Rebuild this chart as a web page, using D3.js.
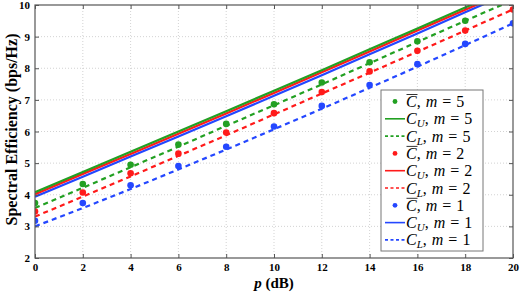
<!DOCTYPE html>
<html>
<head>
<meta charset="utf-8">
<script src="https://cdn.jsdelivr.net/npm/d3@7"></script>
<style>
  body { margin: 0; background: #fff; }
  svg text { font-family: "Liberation Serif", "DejaVu Serif", serif; }
</style>
</head>
<body>
<div id="chart"></div>
<script>
// snr points (dB)
const pValues = [0, 2, 4, 6, 8, 10, 12, 14, 16, 18, 20];
const xTicks = [0, 2, 4, 6, 8, 10, 12, 14, 16, 18, 20];
const yTicks = [2, 3, 4, 5, 6, 7, 8, 9, 10];

// C bar (simulated points)
const cBar5 = [3.74, 4.34, 4.95, 5.59, 6.24, 6.86, 7.55, 8.19, 8.85, 9.50, 10.15];
const cBar2 = [3.47, 4.07, 4.68, 5.30, 5.97, 6.58, 7.25, 7.90, 8.55, 9.19, 9.86];
const cBar1 = [3.18, 3.74, 4.30, 4.91, 5.52, 6.16, 6.81, 7.47, 8.13, 8.77, 9.42];
// upper bounds
const cU5 = [4.08, 4.72, 5.36, 6.00, 6.64, 7.29, 7.94, 8.60, 9.26, 9.92, 10.58];
const cU2 = [4.02, 4.66, 5.29, 5.93, 6.57, 7.22, 7.87, 8.53, 9.19, 9.85, 10.51];
const cU1 = [3.94, 4.57, 5.21, 5.84, 6.48, 7.13, 7.78, 8.44, 9.10, 9.77, 10.43];
// lower bounds
const cL5 = [3.58, 4.22, 4.87, 5.52, 6.18, 6.83, 7.49, 8.16, 8.83, 9.50, 10.16];
const cL2 = [3.31, 3.94, 4.58, 5.23, 5.88, 6.54, 7.20, 7.86, 8.52, 9.19, 9.86];
const cL1 = [3.00, 3.58, 4.18, 4.80, 5.43, 6.07, 6.72, 7.38, 8.05, 8.73, 9.42];

const mValues = [5, 2, 1];
const colors = ["#22a022", "#ff1a1a", "#2447ff"];

const width = 526, height = 293;
const margin = {top: 5, right: 13, bottom: 35, left: 35};

const svg = d3.select("#chart").append("svg")
  .attr("width", width)
  .attr("height", height);

const x = d3.scaleLinear().domain([0, 20]).range([margin.left, width - margin.right]);
const y = d3.scaleLinear().domain([2, 10]).range([height - margin.bottom, margin.top]);

// grid
svg.append("g").selectAll("line").data(xTicks.slice(1, -1)).join("line")
  .attr("x1", d => x(d)).attr("x2", d => x(d))
  .attr("y1", y(2)).attr("y2", y(10))
  .attr("stroke", "#c8c8c8").attr("stroke-width", 0.8).attr("stroke-dasharray", "1,2");
svg.append("g").selectAll("line").data(yTicks.slice(1, -1)).join("line")
  .attr("x1", x(0)).attr("x2", x(20))
  .attr("y1", d => y(d)).attr("y2", d => y(d))
  .attr("stroke", "#c8c8c8").attr("stroke-width", 0.8).attr("stroke-dasharray", "1,2");

// clip
svg.append("clipPath").attr("id", "clip").append("rect")
  .attr("x", x(0)).attr("y", y(10))
  .attr("width", x(20) - x(0)).attr("height", y(2) - y(10));

const plot = svg.append("g").attr("clip-path", "url(#clip)");
const line = d3.line().x((d, i) => x(pValues[i])).y(d => y(d));

const groups = [
  {bar: cBar5, up: cU5, low: cL5},
  {bar: cBar2, up: cU2, low: cL2},
  {bar: cBar1, up: cU1, low: cL1}
];

// upper bounds first, then lower, then dots
[2, 1, 0].forEach(k => {
  plot.append("path").datum(groups[k].up)
    .attr("d", line).attr("fill", "none")
    .attr("stroke", colors[k]).attr("stroke-width", 2.2);
});
groups.forEach((g, k) => {
  plot.append("path").datum(g.low)
    .attr("d", line).attr("fill", "none")
    .attr("stroke", colors[k]).attr("stroke-width", 2.2)
    .attr("stroke-dasharray", "5,4");
  plot.append("g").selectAll("circle").data(g.bar).join("circle")
    .attr("cx", (d, i) => x(pValues[i]))
    .attr("cy", d => y(d))
    .attr("r", 3.3)
    .attr("fill", colors[k]);
});

// frame + axes
const axisColor = "#555";
function styleAxis(g) {
  g.select(".domain").remove();
  g.selectAll(".tick line").attr("stroke", axisColor);
  g.selectAll(".tick text")
    .attr("fill", "#000").attr("font-size", 11).attr("font-weight", "bold")
    .attr("font-family", "Liberation Serif");
}
svg.append("g").attr("transform", `translate(0,${y(2)})`)
  .call(d3.axisBottom(x).tickValues(xTicks).tickSize(-4).tickPadding(5))
  .call(styleAxis);
svg.append("g").attr("transform", `translate(0,${y(10)})`)
  .call(d3.axisTop(x).tickValues(xTicks).tickSize(-4).tickFormat(""))
  .call(styleAxis);
svg.append("g").attr("transform", `translate(${x(0)},0)`)
  .call(d3.axisLeft(y).tickValues(yTicks).tickSize(-4).tickPadding(5))
  .call(styleAxis);
svg.append("g").attr("transform", `translate(${x(20)},0)`)
  .call(d3.axisRight(y).tickValues(yTicks).tickSize(-4).tickFormat(""))
  .call(styleAxis);

svg.append("rect")
  .attr("x", x(0)).attr("y", y(10))
  .attr("width", x(20) - x(0)).attr("height", y(2) - y(10))
  .attr("fill", "none").attr("stroke", axisColor).attr("stroke-width", 1.2);

// axis labels
const xl = svg.append("text")
  .attr("x", (x(0) + x(20)) / 2).attr("y", 288)
  .attr("text-anchor", "middle").attr("font-size", 15).attr("font-weight", "bold");
xl.append("tspan").attr("font-style", "italic").text("p");
xl.append("tspan").text(" (dB)");

svg.append("text")
  .attr("transform", `translate(17,${(y(2) + y(10)) / 2 - 2}) rotate(-90)`)
  .attr("text-anchor", "middle").attr("font-size", 16).attr("font-weight", "bold")
  .text("Spectral Efficiency (bps/Hz)");

// legend
const lx = 381, ly = 90, lw = 102, lh = 161;
const legend = svg.append("g");
legend.append("rect")
  .attr("x", lx).attr("y", ly).attr("width", lw).attr("height", lh)
  .attr("fill", "#fff").attr("stroke", "#777").attr("stroke-width", 1);

const entries = [];
mValues.forEach((m, k) => {
  entries.push({kind: "dot", sym: "bar", m, k});
  entries.push({kind: "solid", sym: "U", m, k});
  entries.push({kind: "dash", sym: "L", m, k});
});

const rowH = 17.3;
entries.forEach((e, i) => {
  const cy = ly + 11.5 + i * rowH;
  const g = legend.append("g");
  if (e.kind === "dot") {
    g.append("circle").attr("cx", 395).attr("cy", cy).attr("r", 2.4).attr("fill", colors[e.k]);
  } else {
    g.append("line").attr("x1", 385).attr("x2", 405).attr("y1", cy).attr("y2", cy)
      .attr("stroke", colors[e.k]).attr("stroke-width", 1.6)
      .attr("stroke-dasharray", e.kind === "dash" ? "3,2.5" : null);
  }
  const tx = 406;
  const t = g.append("text").attr("x", tx).attr("y", cy + 5.5).attr("font-size", 16);
  t.append("tspan").attr("font-style", "italic").text("C");
  if (e.kind === "dot") {
    g.append("line").attr("x1", tx + 0.5).attr("x2", tx + 11.5)
      .attr("y1", cy - 7).attr("y2", cy - 7)
      .attr("stroke", "#000").attr("stroke-width", 0.8);
    t.append("tspan").text(",");
  } else {
    t.append("tspan").attr("font-style", "italic").attr("font-size", 11)
      .attr("dy", 3).text(e.sym);
    t.append("tspan").attr("dy", -3).text(",");
  }
  t.append("tspan").attr("font-style", "italic").attr("dx", 5).text("m");
  t.append("tspan").attr("dx", 5).text("=");
  t.append("tspan").attr("dx", 5).text(e.m);
});
</script>
</body>
</html>
